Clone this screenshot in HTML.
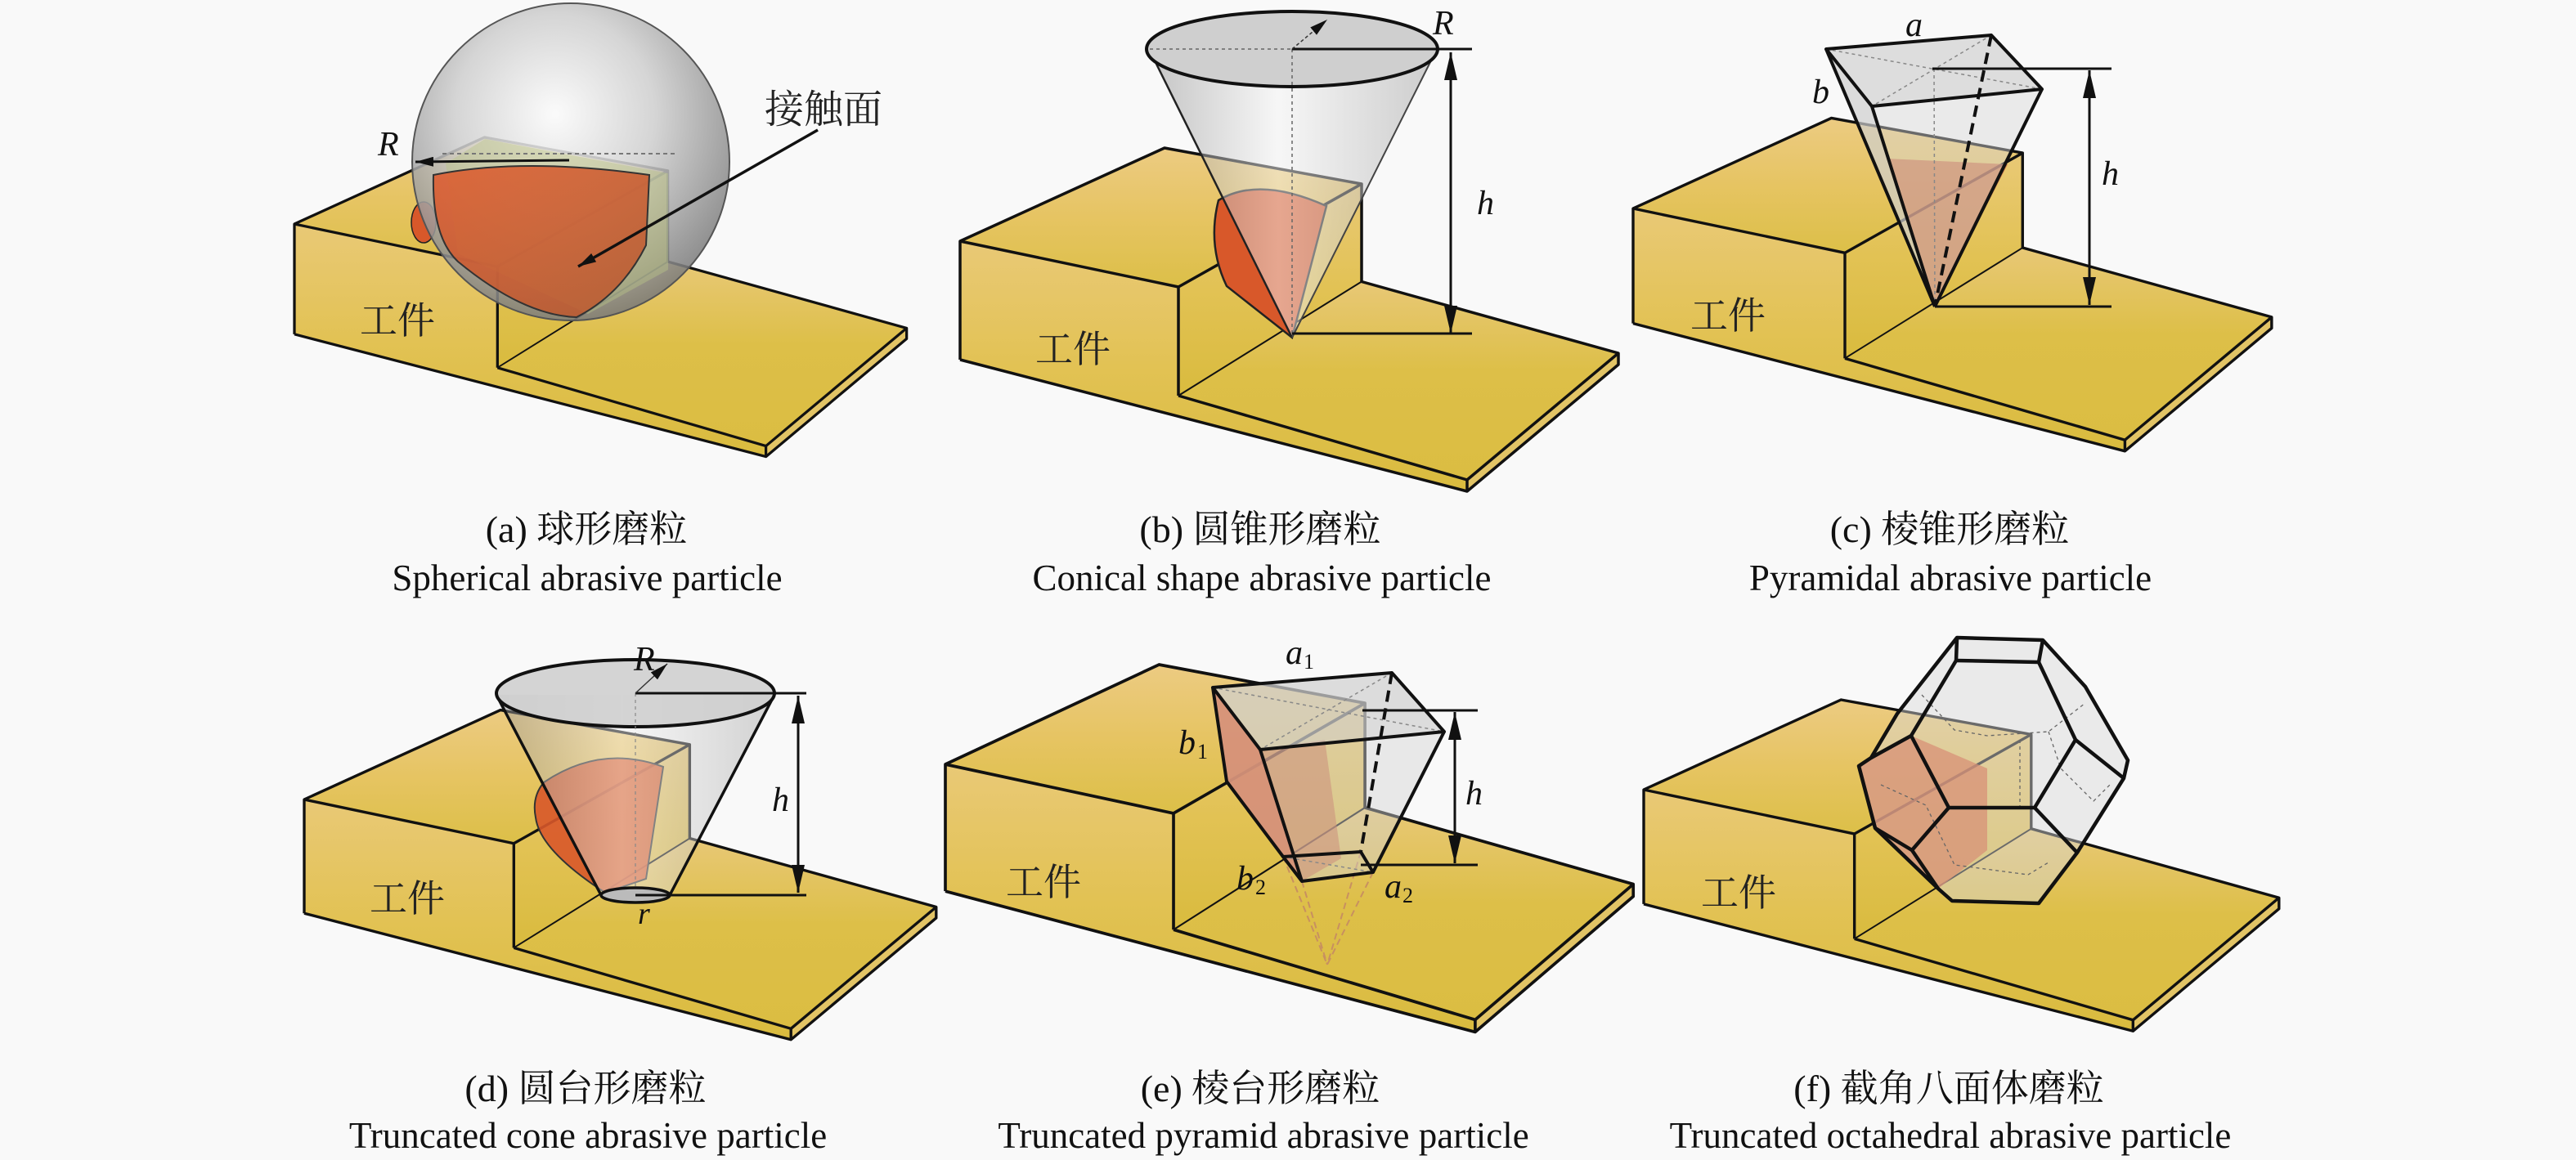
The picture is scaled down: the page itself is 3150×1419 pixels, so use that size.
<!DOCTYPE html>
<html><head><meta charset="utf-8"><style>
html,body{margin:0;padding:0;background:#f9f9f9;}
svg{display:block;}
.cap{font-family:"Liberation Serif","Noto Serif CJK SC",serif;font-size:46px;fill:#111;text-anchor:middle;}
.en{font-family:"Liberation Serif","Noto Serif CJK SC",serif;font-size:45px;fill:#111;text-anchor:middle;}
.wk{font-family:"Liberation Serif","Noto Serif CJK SC",serif;font-size:46px;fill:#222;}
.it{font-family:"Liberation Serif",serif;font-style:italic;font-size:42px;fill:#111;}
.sub{font-family:"Liberation Serif",serif;font-size:26px;fill:#111;}
</style></head><body>
<svg width="3150" height="1419" viewBox="0 0 3150 1419" xmlns="http://www.w3.org/2000/svg">
<defs>
<linearGradient id="gTop" x1="0" y1="0" x2="0" y2="1"><stop offset="0" stop-color="#eccb82"/><stop offset="0.5" stop-color="#e6c462"/><stop offset="1" stop-color="#dcbf48"/></linearGradient>
<linearGradient id="gFront" x1="0" y1="0" x2="0" y2="1"><stop offset="0" stop-color="#e9c976"/><stop offset="0.5" stop-color="#e2c254"/><stop offset="1" stop-color="#d9bb3e"/></linearGradient>
<linearGradient id="gSlab" x1="0" y1="0" x2="0" y2="1"><stop offset="0" stop-color="#e8c876"/><stop offset="0.45" stop-color="#ddbf48"/><stop offset="1" stop-color="#dbbd42"/></linearGradient>
<radialGradient id="gSph" cx="0.45" cy="0.35" r="0.7"><stop offset="0" stop-color="#fbfbfb"/><stop offset="0.45" stop-color="#cfcfcf"/><stop offset="1" stop-color="#6e6e6e"/></radialGradient>
<linearGradient id="gCone" x1="0" y1="0" x2="1" y2="0"><stop offset="0" stop-color="#909090"/><stop offset="0.45" stop-color="#f4f4f4"/><stop offset="1" stop-color="#a0a0a0"/></linearGradient>
<linearGradient id="gRed" x1="0" y1="0" x2="1" y2="1"><stop offset="0" stop-color="#e0582a"/><stop offset="1" stop-color="#b8582e"/></linearGradient>
<marker id="ar" viewBox="0 0 10 10" refX="10" refY="5" markerWidth="34" markerHeight="16" markerUnits="userSpaceOnUse" orient="auto-start-reverse" preserveAspectRatio="none"><path d="M0,0 L10,5 L0,10z" fill="#111"/></marker>
<marker id="ars" viewBox="0 0 10 10" refX="10" refY="5" markerWidth="22" markerHeight="12" markerUnits="userSpaceOnUse" orient="auto" preserveAspectRatio="none"><path d="M0,0 L10,5 L0,10z" fill="#111"/></marker>
<g id="wp">
<polygon points="0,0 267,56 267,189 620,292 620,306 0,145" fill="url(#gFront)"/>
<polygon points="0,0 250,-114 491,-70 267,56" fill="url(#gTop)"/>
<polygon points="267,56 491,-70 491,49.5 267,189" fill="url(#gFront)"/>
<polygon points="267,189 491,49.5 805,137 620,292" fill="url(#gSlab)"/>
<polygon points="620,292 805,137 805,151 620,306" fill="#e2c466"/>
<g fill="none" stroke="#111" stroke-width="3.5" stroke-linejoin="round">
<polyline points="0,145 0,0 250,-114 491,-70 491,49.5 805,137 805,151 620,306 0,145"/>
<polyline points="0,0 267,56 267,189"/>
<line x1="267" y1="56" x2="491" y2="-70"/>
<polyline points="267,189 620,292 805,137"/>
<line x1="620" y1="292" x2="620" y2="306"/>
</g>
<line x1="267" y1="189" x2="491" y2="49.5" stroke="#111" stroke-width="2"/>
</g>
</defs>
<rect width="3150" height="1419" fill="#f9f9f9"/>

<!-- workpieces -->
<use href="#wp" transform="translate(360,274) scale(0.93)"/>
<use href="#wp" transform="translate(1174,295)"/>
<use href="#wp" transform="translate(1997,255) scale(0.97)"/>
<use href="#wp" transform="translate(372,978) scale(0.96)"/>
<use href="#wp" transform="translate(1156,935) scale(1.045,1.07)"/>
<use href="#wp" transform="translate(2010,966) scale(0.965)"/>

<text class="wk" x="440" y="408">工件</text>
<text class="wk" x="1266" y="443">工件</text>
<text class="wk" x="2067" y="402">工件</text>
<text class="wk" x="452" y="1115">工件</text>
<text class="wk" x="1230" y="1095">工件</text>
<text class="wk" x="2080" y="1108">工件</text>

<!-- (a) sphere -->
<ellipse cx="518" cy="272" rx="15" ry="25" fill="#d8582a" stroke="#222" stroke-width="1.5"/>
<circle cx="698" cy="198" r="194" fill="url(#gSph)" fill-opacity="0.86" stroke="#555" stroke-width="2"/>
<polygon points="593,170 817,212 817,330 719,384 560,310 545,200" fill="#b8c488" fill-opacity="0.45"/>
<path d="M530,214 Q640,192 794,214 L790,300 Q760,360 705,388 Q640,386 560,320 Q528,290 530,214Z" fill="url(#gRed)" fill-opacity="0.85" stroke="#333" stroke-width="2"/>
<line x1="541" y1="188" x2="828" y2="188" stroke="#777" stroke-width="2" stroke-dasharray="5,4"/>
<line x1="696" y1="196" x2="508" y2="198" stroke="#111" stroke-width="3" marker-end="url(#ars)"/>
<text class="it" x="462" y="190">R</text>
<line x1="1000" y1="159" x2="707" y2="326" stroke="#111" stroke-width="3.5" marker-end="url(#ars)"/>
<text class="wk" x="935" y="150" style="font-size:48px">接触面</text>

<!-- (b) cone -->
<path d="M1490,245 Q1540,215 1622,252 L1580,413 L1500,350 Q1476,300 1490,245Z" fill="#d8582a" stroke="#222" stroke-width="2.5"/>
<path d="M1406,62 L1580,413 L1755,64 Z" fill="url(#gCone)" fill-opacity="0.5"/>
<line x1="1406" y1="62" x2="1580" y2="413" stroke="#222" stroke-width="2.5"/>
<line x1="1755" y1="64" x2="1580" y2="413" stroke="#444" stroke-width="2"/>
<ellipse cx="1580" cy="60" rx="178" ry="46" fill="#cfcfcf" stroke="#111" stroke-width="4"/>
<line x1="1406" y1="60" x2="1580" y2="60" stroke="#666" stroke-width="1.5" stroke-dasharray="4,4"/>
<line x1="1580" y1="60" x2="1580" y2="410" stroke="#666" stroke-width="1.5" stroke-dasharray="4,4"/>
<line x1="1580" y1="60" x2="1800" y2="60" stroke="#111" stroke-width="3"/>
<line x1="1580" y1="60" x2="1623" y2="24" stroke="#333" stroke-width="1.5" stroke-dasharray="4,3" marker-end="url(#ars)"/>
<text class="it" x="1752" y="42">R</text>
<line x1="1580" y1="408" x2="1800" y2="408" stroke="#111" stroke-width="3"/>
<line x1="1774" y1="64" x2="1774" y2="408" stroke="#111" stroke-width="3" marker-start="url(#ar)" marker-end="url(#ar)"/>
<text class="it" x="1806" y="262">h</text>

<!-- (c) pyramid -->
<polygon points="2307,194 2455,201 2366,375" fill="#c8603a" fill-opacity="0.7"/>
<polygon points="2233,60 2435,43 2497,109 2366,375" fill="#d6d6d6" fill-opacity="0.45"/>
<polygon points="2233,60 2289,130 2366,375" fill="#c9c9c9" fill-opacity="0.45"/>
<polygon points="2233,60 2435,43 2497,109 2289,130" fill="#d4d4d4" fill-opacity="0.6"/>
<g stroke="#888" stroke-width="1.5" stroke-dasharray="4,4" fill="none"><line x1="2233" y1="60" x2="2497" y2="109"/><line x1="2435" y1="43" x2="2289" y2="130"/><line x1="2365" y1="84" x2="2366" y2="375"/></g>
<g stroke="#111" stroke-width="4" fill="none" stroke-linejoin="round">
<polygon points="2233,60 2435,43 2497,109 2289,130"/>
<line x1="2233" y1="60" x2="2366" y2="375"/><line x1="2289" y1="130" x2="2366" y2="375"/><line x1="2497" y1="109" x2="2366" y2="375"/>
<line x1="2435" y1="43" x2="2366" y2="375" stroke-dasharray="14,8"/>
</g>
<line x1="2363" y1="84" x2="2582" y2="84" stroke="#111" stroke-width="3"/>
<line x1="2366" y1="375" x2="2582" y2="375" stroke="#111" stroke-width="3"/>
<line x1="2555" y1="86" x2="2555" y2="373" stroke="#111" stroke-width="3" marker-start="url(#ar)" marker-end="url(#ar)"/>
<text class="it" x="2330" y="44">a</text>
<text class="it" x="2216" y="126">b</text>
<text class="it" x="2570" y="226">h</text>

<!-- (d) truncated cone -->
<path d="M665,957 Q735,910 811,938 L790,1075 L740,1092 Q660,1040 655,1000 Q650,975 665,957Z" fill="#d8582a" fill-opacity="0.9" stroke="#333" stroke-width="2"/>
<path d="M607,850 L735,1095 L819,1095 L947,850 Z" fill="url(#gCone)" fill-opacity="0.45"/>
<line x1="607" y1="850" x2="735" y2="1095" stroke="#111" stroke-width="3.5"/>
<line x1="947" y1="850" x2="819" y2="1095" stroke="#111" stroke-width="3.5"/>
<ellipse cx="777" cy="848" rx="170" ry="41" fill="#cfcfcf" fill-opacity="0.9" stroke="#111" stroke-width="4"/>
<line x1="777" y1="848" x2="777" y2="1095" stroke="#888" stroke-width="1.2" stroke-dasharray="4,4"/>
<line x1="777" y1="848" x2="986" y2="848" stroke="#111" stroke-width="3"/>
<line x1="777" y1="848" x2="816" y2="812" stroke="#333" stroke-width="1.5" marker-end="url(#ars)"/>
<text class="it" x="775" y="820">R</text>
<ellipse cx="777" cy="1095" rx="42" ry="9" fill="#bbb" stroke="#111" stroke-width="3.5"/>
<line x1="777" y1="1095" x2="986" y2="1095" stroke="#111" stroke-width="3"/>
<line x1="976" y1="851" x2="976" y2="1092" stroke="#111" stroke-width="3" marker-start="url(#ar)" marker-end="url(#ar)"/>
<text class="it" x="944" y="992">h</text>
<text class="it" x="780" y="1130" style="font-size:38px">r</text>

<!-- (e) truncated pyramid -->
<g stroke="#c89060" stroke-width="2" stroke-dasharray="8,5" fill="none">
<line x1="1569" y1="1048" x2="1623" y2="1180"/><line x1="1592" y1="1078" x2="1623" y2="1180"/><line x1="1679" y1="1067" x2="1623" y2="1180"/><line x1="1664" y1="1042" x2="1623" y2="1180"/>
</g>
<polygon points="1483,841 1541,917 1592,1078 1569,1048 1500,956" fill="#d8582a" fill-opacity="0.9"/>
<polygon points="1541,917 1620,905 1640,1050 1592,1078" fill="#c8603a" fill-opacity="0.6"/>
<polygon points="1483,841 1702,823 1766,895 1679,1067 1592,1078 1569,1048 1500,956" fill="#d3d3d3" fill-opacity="0.45"/>
<polygon points="1483,841 1702,823 1766,895 1541,917" fill="#d0d0d0" fill-opacity="0.5"/>
<g stroke="#888" stroke-width="1.5" stroke-dasharray="4,4" fill="none"><line x1="1483" y1="841" x2="1766" y2="895"/><line x1="1702" y1="823" x2="1541" y2="917"/><line x1="1569" y1="1048" x2="1679" y2="1067"/></g>
<g stroke="#111" stroke-width="4" fill="none" stroke-linejoin="round">
<polygon points="1483,841 1702,823 1766,895 1541,917"/>
<polyline points="1483,841 1500,956 1569,1048"/>
<line x1="1541" y1="917" x2="1592" y2="1078"/>
<line x1="1766" y1="895" x2="1679" y2="1067"/>
<polygon points="1569,1048 1664,1042 1679,1067 1592,1078"/>
<line x1="1702" y1="823" x2="1664" y2="1042" stroke-dasharray="14,8"/>
</g>
<line x1="1666" y1="869" x2="1807" y2="869" stroke="#111" stroke-width="3"/>
<line x1="1664" y1="1058" x2="1807" y2="1058" stroke="#111" stroke-width="3"/>
<line x1="1779" y1="871" x2="1779" y2="1056" stroke="#111" stroke-width="3" marker-start="url(#ar)" marker-end="url(#ar)"/>
<text class="it" x="1572" y="812">a</text><text class="sub" x="1594" y="818">1</text>
<text class="it" x="1441" y="922">b</text><text class="sub" x="1464" y="928">1</text>
<text class="it" x="1512" y="1088">b</text><text class="sub" x="1535" y="1094">2</text>
<text class="it" x="1693" y="1098">a</text><text class="sub" x="1715" y="1104">2</text>
<text class="it" x="1792" y="984">h</text>

<!-- (f) truncated octahedron -->
<polygon points="2273,937 2337,900 2430,940 2430,1040 2370,1087 2293,1013" fill="#d8582a" fill-opacity="0.75"/>
<polygon points="2393,780 2498,783 2550,840 2602,930 2597,952 2540,1043 2493,1105 2387,1102 2370,1087 2293,1013 2273,937 2288,927 2320,873" fill="#d8d8d8" fill-opacity="0.45"/>
<g stroke="#666" stroke-width="1.3" stroke-dasharray="4,4" fill="none">
<polyline points="2350,850 2390,893 2430,900 2505,895 2550,860"/>
<polyline points="2505,895 2520,940 2560,980 2580,960"/>
<polyline points="2300,960 2355,985 2390,1058 2480,1070 2505,1055"/>
<line x1="2470" y1="905" x2="2470" y2="988"/>
</g>
<g stroke="#111" stroke-width="4.5" fill="none" stroke-linejoin="round">
<polygon points="2393,780 2498,783 2550,840 2602,930 2597,952 2540,1043 2493,1105 2387,1102 2370,1087 2293,1013 2273,937 2288,927 2320,873"/>
<polyline points="2392,808 2493,810"/>
<line x1="2393" y1="780" x2="2392" y2="808"/><line x1="2498" y1="783" x2="2493" y2="810"/>
<polyline points="2392,808 2337,900 2383,988 2488,988 2538,905 2493,810"/>
<line x1="2538" y1="905" x2="2597" y2="952"/>
<line x1="2488" y1="988" x2="2540" y2="1043"/>
<line x1="2337" y1="900" x2="2288" y2="927"/>
<polyline points="2383,988 2338,1040 2370,1087"/>
<line x1="2338" y1="1040" x2="2293" y2="1013"/>
</g>

<!-- captions -->
<text class="cap" x="717" y="663">(a) 球形磨粒</text>
<text class="en" x="718" y="722">Spherical abrasive particle</text>
<text class="cap" x="1541" y="663">(b) 圆锥形磨粒</text>
<text class="en" x="1543" y="722">Conical shape abrasive particle</text>
<text class="cap" x="2384" y="663">(c) 棱锥形磨粒</text>
<text class="en" x="2385" y="722">Pyramidal abrasive particle</text>
<text class="cap" x="716" y="1347">(d) 圆台形磨粒</text>
<text class="en" x="719" y="1404">Truncated cone abrasive particle</text>
<text class="cap" x="1541" y="1347">(e) 棱台形磨粒</text>
<text class="en" x="1545" y="1404">Truncated pyramid abrasive particle</text>
<text class="cap" x="2383" y="1347">(f) 截角八面体磨粒</text>
<text class="en" x="2385" y="1404">Truncated octahedral abrasive particle</text>
</svg>
</body></html>
